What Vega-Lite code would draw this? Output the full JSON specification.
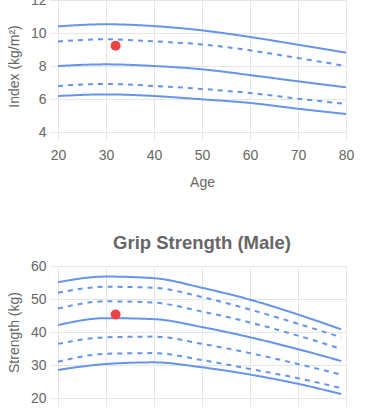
{
  "$schema": "https://vega.github.io/schema/vega-lite/v6.json",
  "padding": {"left": 7, "top": -7, "right": 5, "bottom": 0},
  "spacing": 44,
  "background": "white",
  "config": {
    "view": {"stroke": null},
    "font": "Liberation Sans",
    "axis": {
      "labelFont": "Liberation Sans",
      "labelFontSize": 14,
      "labelColor": "#666666",
      "labelOverlap": false,
      "labelFlush": false,
      "tickCount": 20,
      "format": "d",
      "titleFont": "Liberation Sans",
      "titleFontSize": 14,
      "titleFontWeight": "normal",
      "titleColor": "#666666",
      "gridColor": "#e6e6e6",
      "gridWidth": 1,
      "tickColor": "#e6e6e6",
      "tickSize": 8,
      "domain": false,
      "labelPadding": 4,
      "titlePadding": 9
    },
    "axisX": {"labelPadding": 8, "titlePadding": 13}
  },
  "datasets": {
    "smi": [
      {"age": 20, "value": 10.40, "series": "s1", "style": "solid"},
      {"age": 30, "value": 10.53, "series": "s1", "style": "solid"},
      {"age": 40, "value": 10.42, "series": "s1", "style": "solid"},
      {"age": 50, "value": 10.16, "series": "s1", "style": "solid"},
      {"age": 60, "value": 9.76, "series": "s1", "style": "solid"},
      {"age": 70, "value": 9.29, "series": "s1", "style": "solid"},
      {"age": 80, "value": 8.81, "series": "s1", "style": "solid"},
      {"age": 20, "value": 9.49, "series": "s2", "style": "dashed"},
      {"age": 30, "value": 9.62, "series": "s2", "style": "dashed"},
      {"age": 40, "value": 9.49, "series": "s2", "style": "dashed"},
      {"age": 50, "value": 9.31, "series": "s2", "style": "dashed"},
      {"age": 60, "value": 8.95, "series": "s2", "style": "dashed"},
      {"age": 70, "value": 8.48, "series": "s2", "style": "dashed"},
      {"age": 80, "value": 8.00, "series": "s2", "style": "dashed"},
      {"age": 20, "value": 8.00, "series": "s3", "style": "solid"},
      {"age": 30, "value": 8.10, "series": "s3", "style": "solid"},
      {"age": 40, "value": 8.00, "series": "s3", "style": "solid"},
      {"age": 50, "value": 7.80, "series": "s3", "style": "solid"},
      {"age": 60, "value": 7.45, "series": "s3", "style": "solid"},
      {"age": 70, "value": 7.07, "series": "s3", "style": "solid"},
      {"age": 80, "value": 6.71, "series": "s3", "style": "solid"},
      {"age": 20, "value": 6.79, "series": "s4", "style": "dashed"},
      {"age": 30, "value": 6.91, "series": "s4", "style": "dashed"},
      {"age": 40, "value": 6.79, "series": "s4", "style": "dashed"},
      {"age": 50, "value": 6.61, "series": "s4", "style": "dashed"},
      {"age": 60, "value": 6.36, "series": "s4", "style": "dashed"},
      {"age": 70, "value": 6.02, "series": "s4", "style": "dashed"},
      {"age": 80, "value": 5.70, "series": "s4", "style": "dashed"},
      {"age": 20, "value": 6.18, "series": "s5", "style": "solid"},
      {"age": 30, "value": 6.28, "series": "s5", "style": "solid"},
      {"age": 40, "value": 6.18, "series": "s5", "style": "solid"},
      {"age": 50, "value": 5.98, "series": "s5", "style": "solid"},
      {"age": 60, "value": 5.76, "series": "s5", "style": "solid"},
      {"age": 70, "value": 5.41, "series": "s5", "style": "solid"},
      {"age": 80, "value": 5.09, "series": "s5", "style": "solid"}
    ],
    "smiUser": [{"age": 32, "value": 9.23}],
    "grip": [
      {"age": 20, "value": 55.1, "series": "g1", "style": "solid"},
      {"age": 30, "value": 56.8, "series": "g1", "style": "solid"},
      {"age": 40, "value": 56.3, "series": "g1", "style": "solid"},
      {"age": 50, "value": 53.4, "series": "g1", "style": "solid"},
      {"age": 60, "value": 49.8, "series": "g1", "style": "solid"},
      {"age": 70, "value": 45.3, "series": "g1", "style": "solid"},
      {"age": 79, "value": 40.8, "series": "g1", "style": "solid"},
      {"age": 20, "value": 51.9, "series": "g2", "style": "dashed"},
      {"age": 30, "value": 53.7, "series": "g2", "style": "dashed"},
      {"age": 40, "value": 53.4, "series": "g2", "style": "dashed"},
      {"age": 50, "value": 50.6, "series": "g2", "style": "dashed"},
      {"age": 60, "value": 46.8, "series": "g2", "style": "dashed"},
      {"age": 70, "value": 42.5, "series": "g2", "style": "dashed"},
      {"age": 79, "value": 38.4, "series": "g2", "style": "dashed"},
      {"age": 20, "value": 47.1, "series": "g3", "style": "dashed"},
      {"age": 30, "value": 49.3, "series": "g3", "style": "dashed"},
      {"age": 40, "value": 48.9, "series": "g3", "style": "dashed"},
      {"age": 50, "value": 46.2, "series": "g3", "style": "dashed"},
      {"age": 60, "value": 42.9, "series": "g3", "style": "dashed"},
      {"age": 70, "value": 38.9, "series": "g3", "style": "dashed"},
      {"age": 79, "value": 34.9, "series": "g3", "style": "dashed"},
      {"age": 20, "value": 42.1, "series": "g4", "style": "solid"},
      {"age": 30, "value": 44.2, "series": "g4", "style": "solid"},
      {"age": 40, "value": 43.9, "series": "g4", "style": "solid"},
      {"age": 50, "value": 41.5, "series": "g4", "style": "solid"},
      {"age": 60, "value": 38.4, "series": "g4", "style": "solid"},
      {"age": 70, "value": 34.8, "series": "g4", "style": "solid"},
      {"age": 79, "value": 31.2, "series": "g4", "style": "solid"},
      {"age": 20, "value": 36.4, "series": "g5", "style": "dashed"},
      {"age": 30, "value": 38.4, "series": "g5", "style": "dashed"},
      {"age": 40, "value": 38.6, "series": "g5", "style": "dashed"},
      {"age": 50, "value": 36.4, "series": "g5", "style": "dashed"},
      {"age": 60, "value": 33.6, "series": "g5", "style": "dashed"},
      {"age": 70, "value": 30.3, "series": "g5", "style": "dashed"},
      {"age": 79, "value": 27.1, "series": "g5", "style": "dashed"},
      {"age": 20, "value": 31.0, "series": "g6", "style": "dashed"},
      {"age": 30, "value": 33.4, "series": "g6", "style": "dashed"},
      {"age": 40, "value": 33.6, "series": "g6", "style": "dashed"},
      {"age": 50, "value": 31.5, "series": "g6", "style": "dashed"},
      {"age": 60, "value": 28.8, "series": "g6", "style": "dashed"},
      {"age": 70, "value": 26.0, "series": "g6", "style": "dashed"},
      {"age": 79, "value": 23.0, "series": "g6", "style": "dashed"},
      {"age": 20, "value": 28.5, "series": "g7", "style": "solid"},
      {"age": 30, "value": 30.3, "series": "g7", "style": "solid"},
      {"age": 40, "value": 30.8, "series": "g7", "style": "solid"},
      {"age": 50, "value": 29.3, "series": "g7", "style": "solid"},
      {"age": 60, "value": 27.1, "series": "g7", "style": "solid"},
      {"age": 70, "value": 24.3, "series": "g7", "style": "solid"},
      {"age": 79, "value": 21.2, "series": "g7", "style": "solid"}
    ],
    "gripUser": [{"age": 32, "value": 45.3}]
  },
  "vconcat": [
    {
      "width": 288,
      "height": 132,
      "layer": [
        {
          "data": {"name": "smi"},
          "mark": {"type": "line", "color": "#6394ee", "strokeWidth": 2, "interpolate": "monotone"},
          "encoding": {
            "x": {"field": "age", "type": "quantitative", "scale": {"domain": [20, 80]}, "axis": {"values": [20, 30, 40, 50, 60, 70, 80], "format": "d", "title": "Age"}},
            "y": {"field": "value", "type": "quantitative", "scale": {"domain": [4, 12]}, "axis": {"values": [4, 6, 8, 10, 12], "format": "d", "title": "Index (kg/m²)"}},
            "detail": {"field": "series", "type": "nominal"},
            "strokeDash": {"field": "style", "type": "nominal", "scale": {"domain": ["solid", "dashed"], "range": [[1, 0], [5, 5]]}, "legend": null}
          }
        },
        {
          "data": {"name": "smiUser"},
          "mark": {"type": "circle", "color": "#ee4444", "opacity": 1, "size": 100},
          "encoding": {
            "x": {"field": "age", "type": "quantitative"},
            "y": {"field": "value", "type": "quantitative"}
          }
        }
      ]
    },
    {
      "width": 288,
      "height": 132,
      "title": {"text": "Grip Strength (Male)", "font": "Liberation Sans", "fontSize": 18.5, "fontWeight": "bold", "color": "#666666", "offset": 7},
      "layer": [
        {
          "data": {"name": "grip"},
          "mark": {"type": "line", "color": "#6394ee", "strokeWidth": 2, "interpolate": "monotone"},
          "encoding": {
            "x": {"field": "age", "type": "quantitative", "scale": {"domain": [20, 80]}, "axis": {"values": [20, 30, 40, 50, 60, 70, 80], "format": "d", "title": "Age"}},
            "y": {"field": "value", "type": "quantitative", "scale": {"domain": [20, 60]}, "axis": {"values": [20, 30, 40, 50, 60], "format": "d", "title": "Strength (kg)"}},
            "detail": {"field": "series", "type": "nominal"},
            "strokeDash": {"field": "style", "type": "nominal", "scale": {"domain": ["solid", "dashed"], "range": [[1, 0], [5, 5]]}, "legend": null}
          }
        },
        {
          "data": {"name": "gripUser"},
          "mark": {"type": "circle", "color": "#ee4444", "opacity": 1, "size": 100},
          "encoding": {
            "x": {"field": "age", "type": "quantitative"},
            "y": {"field": "value", "type": "quantitative"}
          }
        }
      ]
    }
  ]
}
